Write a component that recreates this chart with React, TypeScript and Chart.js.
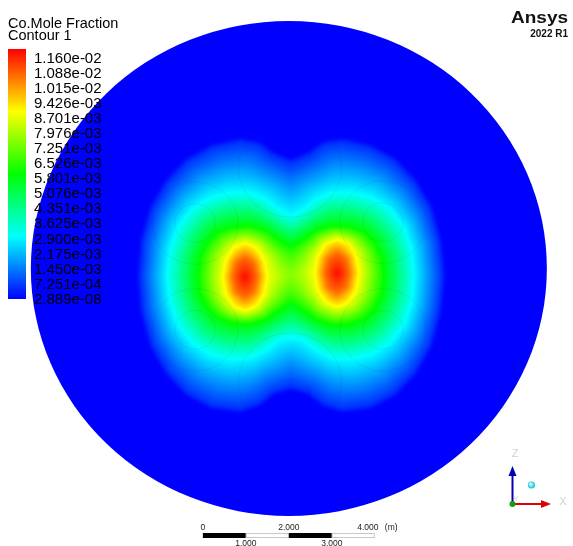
import React, { useEffect, useRef } from "react";
import { Chart, registerables } from "chart.js";

Chart.register(...registerables);

const W = 573;
const H = 546;

// ---- Legend ----
const LEGEND_TITLE = "Co.Mole Fraction";
const LEGEND_SUBTITLE = "Contour 1";
const LEGEND_TICKS = [
  "1.160e-02", "1.088e-02", "1.015e-02", "9.426e-03", "8.701e-03", "7.976e-03",
  "7.251e-03", "6.526e-03", "5.801e-03", "5.076e-03", "4.351e-03", "3.625e-03",
  "2.900e-03", "2.175e-03", "1.450e-03", "7.251e-04", "2.889e-08",
];
const VALUE_MAX_E3 = 11.6; // 1.160e-02 in units of 1e-3

// ---- Iso-lines of CO mole fraction (metres from plume centre) ----
// levels in units of 1e-3
const CONTOUR_LEVELS = [0.5, 2.9, 5.8, 8.7, 10.4];
const PEAK_VALUE = 11.6;
const PEAKS = [[-1.07, -0.05], [1.07, 0.05]];

const ISO_OUTER = [
  [-3.51, -0.05], [-3.44, 0.85], [-3.23, 1.62], [-2.88, 2.25], [-2.42, 2.76], [-1.84, 3.10],
  [-1.19, 3.25], [-0.77, 3.18], [-0.44, 2.93], [0, 2.74], [0.44, 2.93], [0.77, 3.18],
  [1.19, 3.25], [1.84, 3.10], [2.42, 2.76], [2.88, 2.25], [3.23, 1.62], [3.44, 0.85],
  [3.53, 0], [3.44, -0.90], [3.23, -1.70], [2.88, -2.35], [2.42, -2.86], [1.84, -3.18],
  [1.19, -3.27], [0.77, -3.13], [0.40, -2.84], [0, -2.72], [-0.40, -2.84], [-0.77, -3.13],
  [-1.19, -3.27], [-1.84, -3.18], [-2.42, -2.86], [-2.88, -2.35], [-3.23, -1.70], [-3.44, -0.90],
];
const ISO_2_9 = [
  [-2.88, -0.05], [-2.81, 0.61], [-2.63, 1.16], [-2.30, 1.60], [-1.88, 1.87], [-1.42, 1.99],
  [-0.95, 1.99], [-0.60, 1.84], [-0.30, 1.58], [0, 1.43], [0.30, 1.58], [0.60, 1.84],
  [0.95, 1.99], [1.42, 1.99], [1.88, 1.87], [2.30, 1.60], [2.63, 1.16], [2.81, 0.61],
  [2.86, 0], [2.81, -0.65], [2.63, -1.21], [2.30, -1.65], [1.88, -1.92], [1.42, -2.04],
  [0.95, -2.01], [0.60, -1.82], [0.30, -1.58], [0, -1.50], [-0.30, -1.58], [-0.60, -1.82],
  [-0.95, -2.01], [-1.42, -2.04], [-1.88, -1.92], [-2.30, -1.65], [-2.63, -1.21], [-2.81, -0.65],
];
const ISO_5_8 = [
  [-2.16, -0.05], [-2.12, 0.41], [-1.95, 0.78], [-1.70, 1.04], [-1.37, 1.16], [-0.95, 1.19],
  [-0.60, 1.09], [-0.30, 0.87], [0, 0.68], [0.30, 0.87], [0.60, 1.09], [0.95, 1.19],
  [1.37, 1.16], [1.70, 1.04], [1.95, 0.78], [2.12, 0.41], [2.16, 0], [2.12, -0.44],
  [1.95, -0.80], [1.70, -1.07], [1.37, -1.19], [0.95, -1.21], [0.60, -1.09], [0.30, -0.87],
  [0, -0.68], [-0.30, -0.87], [-0.60, -1.09], [-0.95, -1.19], [-1.37, -1.16], [-1.70, -1.04],
  [-1.95, -0.78], [-2.12, -0.44],
];
const ISO_8_7_LEFT = [
  [-0.56, -0.05], [-0.63, 0.36], [-0.81, 0.66], [-1.07, 0.78], [-1.33, 0.66], [-1.51, 0.36],
  [-1.58, -0.05], [-1.51, -0.46], [-1.33, -0.76], [-1.07, -0.87], [-0.81, -0.76], [-0.63, -0.46],
];
const ISO_8_7_RIGHT = [
  [0.56, 0.05], [0.63, 0.46], [0.81, 0.76], [1.07, 0.87], [1.33, 0.76], [1.51, 0.46],
  [1.58, 0.05], [1.51, -0.36], [1.33, -0.66], [1.07, -0.78], [0.81, -0.66], [0.63, -0.36],
];
const ISO_10_4_LEFT = [
  [-0.79, -0.05], [-0.87, 0.29], [-1.07, 0.43], [-1.27, 0.29], [-1.35, -0.05], [-1.27, -0.39],
  [-1.07, -0.53], [-0.87, -0.39],
];
const ISO_10_4_RIGHT = [
  [1.35, 0.05], [1.27, 0.39], [1.07, 0.53], [0.87, 0.39], [0.79, 0.05], [0.87, -0.29],
  [1.07, -0.43], [1.27, -0.29],
];
const ISO_SETS = [[ISO_OUTER], [ISO_2_9], [ISO_5_8], [ISO_8_7_LEFT, ISO_8_7_RIGHT], [ISO_10_4_LEFT, ISO_10_4_RIGHT]];

// Domain (metres)
const DOMAIN_CENTER = [-0.05, 0.16];
const DOMAIN_RADIUS = 6;

// faint zone outlines (centre x, centre y, radius) in metres
const ZONE_RINGS = [
  [-2.23, 1.26, 0.47], [-2.23, 1.26, 1.0],
  [-2.23, -1.33, 0.47], [-2.23, -1.33, 1.0],
  [2.14, 1.28, 0.47], [2.14, 1.28, 1.0],
  [2.14, -1.33, 0.47], [2.14, -1.33, 1.0],
  [-0.02, 3.0, 0.47], [-0.02, 2.6, 1.2],
  [-0.02, -3.0, 0.47], [-0.02, -2.6, 1.2],
];

// scale bar
const SCALE_BAR_START = -2.05;
const SCALE_BAR_TOP = ["0", "2.000", "4.000"];
const SCALE_BAR_BOTTOM = ["1.000", "3.000"];

// view extents (metres)
const PX_PER_M_X = 43;
const PX_PER_M_Y = 41.25;
const X_MIN = -291 / PX_PER_M_X;
const X_MAX = (W - 291) / PX_PER_M_X;
const Y_MAX = 275 / PX_PER_M_Y;
const Y_MIN = -(H - 275) / PX_PER_M_Y;

function colormap(v: number): [number, number, number] {
  let t = v / VALUE_MAX_E3;
  if (t < 0) t = 0;
  if (t > 1) t = 1;
  if (t < 0.25) return [0, Math.round(255 * (t / 0.25)), 255];
  if (t < 0.5) return [0, 255, Math.round(255 * (1 - (t - 0.25) / 0.25))];
  if (t < 0.75) return [Math.round(255 * ((t - 0.5) / 0.25)), 255, 0];
  return [255, Math.round(255 * (1 - (t - 0.75) / 0.25)), 0];
}

type Pt = [number, number];

function inside(p: Pt, poly: Pt[]) {
  let c = false;
  for (let i = 0, j = poly.length - 1; i < poly.length; j = i++) {
    const [xi, yi] = poly[i], [xj, yj] = poly[j];
    if ((yi > p[1]) !== (yj > p[1]) && p[0] < ((xj - xi) * (p[1] - yi)) / (yj - yi) + xi) c = !c;
  }
  return c;
}

function distPoly(p: Pt, poly: Pt[]) {
  let best = Infinity;
  for (let i = 0, j = poly.length - 1; i < poly.length; j = i++) {
    const [ax, ay] = poly[j], [bx, by] = poly[i];
    const dx = bx - ax, dy = by - ay;
    const l2 = dx * dx + dy * dy;
    let t = l2 > 0 ? ((p[0] - ax) * dx + (p[1] - ay) * dy) / l2 : 0;
    t = Math.max(0, Math.min(1, t));
    const ex = ax + t * dx - p[0], ey = ay + t * dy - p[1];
    const d = ex * ex + ey * ey;
    if (d < best) best = d;
  }
  return Math.sqrt(best);
}

const plumePlugin = {
  id: "plume",
  beforeDraw(chart: any) {
    const ctx = chart.ctx as CanvasRenderingContext2D;
    ctx.save();
    ctx.fillStyle = "#ffffff";
    ctx.fillRect(0, 0, chart.width, chart.height);
    ctx.restore();
  },
  beforeDatasetsDraw(chart: any) {
    const ctx = chart.ctx as CanvasRenderingContext2D;
    const xs = chart.scales.x, ys = chart.scales.y;
    const toPx = (p: number[]): Pt => [xs.getPixelForValue(p[0]), ys.getPixelForValue(p[1])];

    // domain disk
    const cx = xs.getPixelForValue(DOMAIN_CENTER[0]);
    const cy = ys.getPixelForValue(DOMAIN_CENTER[1]);
    const rx = Math.abs(xs.getPixelForValue(DOMAIN_CENTER[0] + DOMAIN_RADIUS) - cx);
    const ry = Math.abs(ys.getPixelForValue(DOMAIN_CENTER[1] + DOMAIN_RADIUS) - cy);
    const [br, bg, bb] = colormap(0);
    ctx.save();
    ctx.fillStyle = `rgb(${br},${bg},${bb})`;
    ctx.beginPath();
    ctx.ellipse(cx, cy, rx, ry, 0, 0, Math.PI * 2);
    ctx.fill();
    ctx.restore();

    // iso-lines to pixel polygons
    const sets: Pt[][][] = ISO_SETS.map((s) => s.map((poly) => poly.map(toPx)));
    const peaks: Pt[] = PEAKS.map(toPx);
    let minX = Infinity, maxX = -Infinity, minY = Infinity, maxY = -Infinity;
    for (const p of sets[0][0]) {
      minX = Math.min(minX, p[0]); maxX = Math.max(maxX, p[0]);
      minY = Math.min(minY, p[1]); maxY = Math.max(maxY, p[1]);
    }
    const pad = 10;
    const px0 = Math.floor(minX - pad), py0 = Math.floor(minY - pad);
    const w = Math.ceil(maxX + pad) - px0, h = Math.ceil(maxY + pad) - py0;
    const vals = new Float32Array(w * h);
    const nL = CONTOUR_LEVELS.length;
    for (let y = 0; y < h; y++) {
      for (let x = 0; x < w; x++) {
        const p: Pt = [px0 + x + 0.5, py0 + y + 0.5];
        let lev = -1;
        for (let i = nL - 1; i >= 0; i--) {
          if (sets[i].some((poly) => inside(p, poly))) { lev = i; break; }
        }
        let v: number;
        if (lev < 0) {
          const d = Math.min(...sets[0].map((poly) => distPoly(p, poly)));
          v = CONTOUR_LEVELS[0] * Math.max(0, 1 - d / 3);
        } else {
          const dLow = Math.min(...sets[lev].map((poly) => distPoly(p, poly)));
          let dHigh: number, vHigh: number;
          if (lev < nL - 1) {
            dHigh = Math.min(...sets[lev + 1].map((poly) => distPoly(p, poly)));
            vHigh = CONTOUR_LEVELS[lev + 1];
          } else {
            dHigh = Math.min(...peaks.map((q) => Math.hypot(q[0] - p[0], q[1] - p[1])));
            vHigh = PEAK_VALUE;
          }
          v = CONTOUR_LEVELS[lev] + (vHigh - CONTOUR_LEVELS[lev]) * (dLow / (dLow + dHigh + 1e-6));
        }
        vals[y * w + x] = v;
      }
    }
    // light smoothing (box blur, separable)
    const blur = (src: Float32Array, r: number) => {
      const tmp = new Float32Array(w * h), out = new Float32Array(w * h);
      for (let y = 0; y < h; y++) for (let x = 0; x < w; x++) {
        let s = 0, n = 0;
        for (let k = -r; k <= r; k++) { const xx = x + k; if (xx >= 0 && xx < w) { s += src[y * w + xx]; n++; } }
        tmp[y * w + x] = s / n;
      }
      for (let y = 0; y < h; y++) for (let x = 0; x < w; x++) {
        let s = 0, n = 0;
        for (let k = -r; k <= r; k++) { const yy = y + k; if (yy >= 0 && yy < h) { s += tmp[yy * w + x]; n++; } }
        out[y * w + x] = s / n;
      }
      return out;
    };
    const sm = blur(blur(vals, 2), 1);
    const off = document.createElement("canvas");
    off.width = w; off.height = h;
    const octx = off.getContext("2d")!;
    const img = octx.createImageData(w, h);
    for (let i = 0; i < w * h; i++) {
      const [r, g, b] = colormap(sm[i]);
      img.data[i * 4] = r; img.data[i * 4 + 1] = g; img.data[i * 4 + 2] = b; img.data[i * 4 + 3] = 255;
    }
    octx.putImageData(img, 0, 0);
    ctx.drawImage(off, px0, py0);

    // faint zone outlines
    ctx.save();
    ctx.strokeStyle = "rgba(0,0,0,0.06)";
    ctx.lineWidth = 1;
    for (const [zx, zy, zr] of ZONE_RINGS) {
      const zcx = xs.getPixelForValue(zx), zcy = ys.getPixelForValue(zy);
      const zrx = Math.abs(xs.getPixelForValue(zx + zr) - zcx);
      const zry = Math.abs(ys.getPixelForValue(zy + zr) - zcy);
      ctx.beginPath();
      ctx.ellipse(zcx, zcy, zrx, zry, 0, 0, Math.PI * 2);
      ctx.stroke();
    }
    ctx.restore();
  },
  afterDraw(chart: any) {
    const ctx = chart.ctx as CanvasRenderingContext2D;
    const xs = chart.scales.x;
    ctx.save();
    // legend title
    ctx.fillStyle = "#000";
    ctx.textBaseline = "alphabetic";
    ctx.textAlign = "left";
    ctx.font = "14.5px 'Liberation Sans', Arial, sans-serif";
    ctx.fillText(LEGEND_TITLE, 8, 27.5);
    ctx.font = "14.5px 'Liberation Sans', Arial, sans-serif";
    ctx.fillText(LEGEND_SUBTITLE, 8, 40);

    // colour bar
    const barX = 8, barY = 49, barW = 18, barH = 250;
    const grad = ctx.createLinearGradient(0, barY, 0, barY + barH);
    grad.addColorStop(0, "rgb(255,0,0)");
    grad.addColorStop(0.25, "rgb(255,255,0)");
    grad.addColorStop(0.5, "rgb(0,255,0)");
    grad.addColorStop(0.75, "rgb(0,255,255)");
    grad.addColorStop(1, "rgb(0,0,255)");
    ctx.fillStyle = grad;
    ctx.fillRect(barX, barY, barW, barH);

    ctx.fillStyle = "#000";
    ctx.font = "15px 'Liberation Sans', Arial, sans-serif";
    ctx.textBaseline = "middle";
    const step = (299.5 - 59) / (LEGEND_TICKS.length - 1);
    LEGEND_TICKS.forEach((t, i) => ctx.fillText(t, 34, 59 + i * step));

    // Ansys logo
    ctx.textBaseline = "alphabetic";
    ctx.font = "bold 17px 'Liberation Sans', Arial, sans-serif";
    const lw = ctx.measureText("Ansys").width;
    ctx.save();
    ctx.translate(511, 23);
    ctx.scale(57 / lw, 1);
    ctx.fillStyle = "#111";
    ctx.fillText("Ansys", 0, 0);
    ctx.restore();
    ctx.font = "bold 10px 'Liberation Sans', Arial, sans-serif";
    ctx.textAlign = "right";
    ctx.fillStyle = "#111";
    ctx.fillText("2022 R1", 568, 37);

    // scale bar
    const s0 = xs.getPixelForValue(SCALE_BAR_START);
    const pxm = xs.getPixelForValue(SCALE_BAR_START + 1) - s0;
    const barTop = 533, barHt = 5;
    for (let i = 0; i < 4; i++) {
      const x0 = s0 + i * pxm;
      if (i % 2 === 0) {
        ctx.fillStyle = "#000";
        ctx.fillRect(x0, barTop, pxm, barHt);
      } else {
        ctx.fillStyle = "#fff";
        ctx.fillRect(x0, barTop, pxm, barHt);
        ctx.strokeStyle = "#c8c8c8";
        ctx.lineWidth = 1;
        ctx.strokeRect(x0 + 0.5, barTop + 0.5, pxm - 1, barHt - 1);
      }
    }
    ctx.fillStyle = "#222";
    ctx.font = "8.5px 'Liberation Sans', Arial, sans-serif";
    ctx.textAlign = "center";
    ctx.textBaseline = "middle";
    SCALE_BAR_TOP.forEach((t, i) => ctx.fillText(t, s0 + i * 2 * pxm - (i === 2 ? 7 : 0), 527.5));
    SCALE_BAR_BOTTOM.forEach((t, i) => ctx.fillText(t, s0 + (i * 2 + 1) * pxm, 544));
    ctx.textAlign = "left";
    ctx.fillText("(m)", s0 + 4 * pxm + 10, 527.5);

    // axis triad
    const ox = 512.5, oy = 504;
    ctx.lineWidth = 2;
    ctx.strokeStyle = "#0000b4";
    ctx.beginPath(); ctx.moveTo(ox, oy); ctx.lineTo(ox, 475); ctx.stroke();
    ctx.fillStyle = "#0000b4";
    ctx.beginPath(); ctx.moveTo(ox, 466); ctx.lineTo(ox - 4, 476); ctx.lineTo(ox + 4, 476); ctx.closePath(); ctx.fill();
    ctx.strokeStyle = "#dc0000";
    ctx.beginPath(); ctx.moveTo(ox, oy); ctx.lineTo(542, oy); ctx.stroke();
    ctx.fillStyle = "#dc0000";
    ctx.beginPath(); ctx.moveTo(551, oy); ctx.lineTo(541, oy - 4); ctx.lineTo(541, oy + 4); ctx.closePath(); ctx.fill();
    ctx.fillStyle = "#10a010";
    ctx.beginPath(); ctx.arc(ox, oy, 3, 0, Math.PI * 2); ctx.fill();
    const sg = ctx.createRadialGradient(530.5, 484, 0.5, 531.5, 485, 4);
    sg.addColorStop(0, "#bfffff");
    sg.addColorStop(1, "#00b8c8");
    ctx.fillStyle = sg;
    ctx.beginPath(); ctx.arc(531.5, 485, 3.6, 0, Math.PI * 2); ctx.fill();
    ctx.fillStyle = "#d0d0d0";
    ctx.font = "11px 'Liberation Sans', Arial, sans-serif";
    ctx.textAlign = "center";
    ctx.fillText("Z", 515, 454);
    ctx.fillText("X", 563, 502);
    ctx.font = "8px 'Liberation Sans', Arial, sans-serif";
    ctx.fillText("Y", 516, 499);
    ctx.restore();
  },
};

export default function App() {
  const ref = useRef<HTMLCanvasElement>(null);
  useEffect(() => {
    const chart = new Chart(ref.current!, {
      type: "scatter",
      data: { datasets: [{ data: [], pointRadius: 0 }] },
      options: {
        animation: false,
        responsive: false,
        maintainAspectRatio: false,
        layout: { padding: 0 },
        events: [],
        scales: {
          x: { type: "linear", min: X_MIN, max: X_MAX, display: false },
          y: { type: "linear", min: Y_MIN, max: Y_MAX, display: false },
        },
        plugins: { legend: { display: false }, tooltip: { enabled: false }, title: { display: false } },
      },
      plugins: [plumePlugin],
    } as any);
    return () => chart.destroy();
  }, []);
  return (
    <div style={{ position: "absolute", left: 0, top: 0, width: W, height: H, background: "#fff" }}>
      <canvas ref={ref} width={W} height={H} style={{ display: "block", width: W, height: H }} />
    </div>
  );
}
